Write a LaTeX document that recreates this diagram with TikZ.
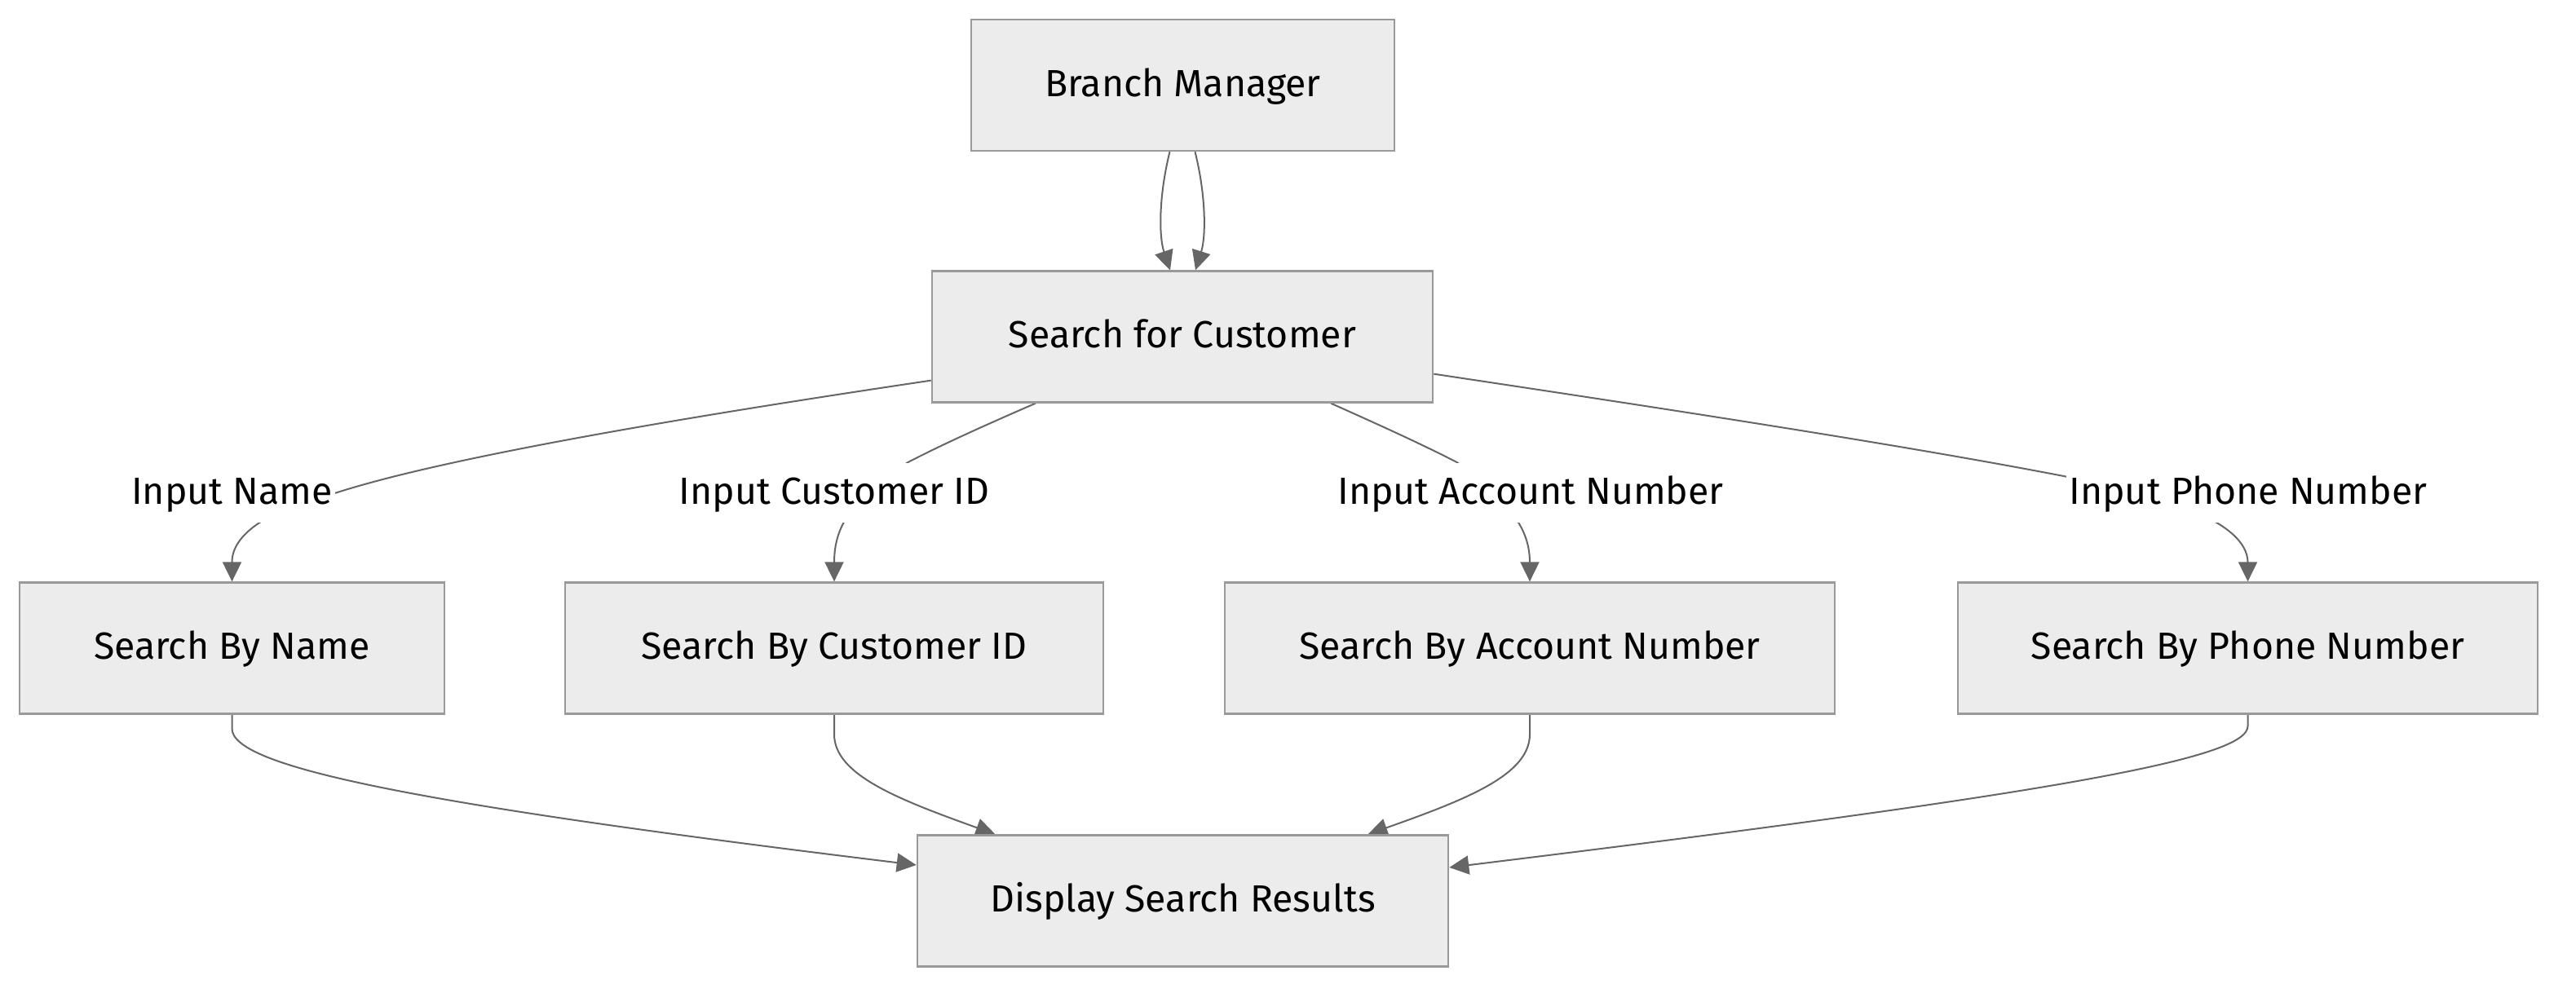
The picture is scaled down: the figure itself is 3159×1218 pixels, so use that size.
\documentclass[tikz,border=0pt]{standalone}
\usepackage{fontspec}
\setmainfont{Fira Sans}
\usetikzlibrary{arrows.meta,calc}
\pgfdeclarelayer{background}
\pgfsetlayers{background,main}
\definecolor{boxfill}{HTML}{ECECEC}
\definecolor{boxline}{HTML}{999999}
\definecolor{edgecol}{HTML}{666666}
\begin{document}
\begin{tikzpicture}[x=0.01cm,y=-0.01cm,
  font=\fontsize{13.2pt}{16pt}\selectfont,
  box/.style={draw=boxline, fill=boxfill, line width=0.022cm, minimum height=1.61cm,
    inner sep=0pt, text height=0.79em, text depth=0em},
  lbl/.style={fill=white, inner xsep=1pt, inner ysep=0pt, minimum height=0.73cm,
    text height=0.79em, text depth=0em},
  conn/.style={draw=edgecol, line width=0.02cm, -{Triangle[length=0.24cm,width=0.23cm]}}]
\useasboundingbox (0,0) rectangle (3159,1218);

% boxes
\node[box, minimum width=5.19cm] (bm)  at (1450.5,104.5) {Branch Manager};
\node[box, minimum width=6.14cm] (sfc) at (1450,413) {Search for Customer};
\node[box, minimum width=5.21cm] (sbn)  at (284.5,795) {Search By Name};
\node[box, minimum width=6.60cm] (scid) at (1023,795) {Search By Customer ID};
\node[box, minimum width=7.48cm] (sacc) at (1876,795) {Search By Account Number};
\node[box, minimum width=7.11cm] (sph)  at (2756.5,795) {Search By Phone Number};
\node[box, minimum width=6.51cm] (disp) at (1450.5,1105) {Display Search Results};

% edge labels
\node[lbl] (lname) at (284.5,604.5) {Input Name};
\node[lbl] (lcid)  at (1023,604.5) {Input Customer ID};
\node[lbl] (lacc)  at (1877,604.5) {Input Account Number};
\node[lbl] (lph)   at (2757,604.5) {Input Phone Number};

\begin{pgfonlayer}{background}
% Branch Manager -> Search for Customer (two edges)
\draw[conn] ($(bm.south)+(-16,0)$) .. controls (1421,240) and (1421,290) .. ($(sfc.north)+(-15,0)$);
\draw[conn] ($(bm.south)+(15,0)$) .. controls (1479,240) and (1479,290) .. ($(sfc.north)+(16,0)$);

% Search for Customer -> labels -> search boxes
\draw[conn] ($(sfc.south west)+(0,-28)$) .. controls (850,510) and (550,560) .. (lname.east)
  .. controls (345,620) and (284,650) .. (284.5,690) -- (sbn.north);
\draw[conn] ($(sfc.south)+(-180,0)$) .. controls (1200,525) and (1150,548) .. ($(lcid.north)+(90,0)$)
  .. controls (1050,610) and (1023,640) .. (1023,690) -- (scid.north);
\draw[conn] ($(sfc.south)+(182,0)$) .. controls (1700,525) and (1750,548) .. ($(lacc.north)+(-90,0)$)
  .. controls (1840,610) and (1876,640) .. (1876,690) -- (sacc.north);
\draw[conn] ($(sfc.south east)+(0,-36)$) .. controls (2020,498) and (2330,545) .. ($(lph.west)+(0,-20)$)
  .. controls (2650,605) and (2756.5,640) .. (2756.5,690) -- (sph.north);

% search boxes -> Display Search Results
\draw[conn] (sbn.south) -- ++(0,17) .. controls (284.5,940) and (500,985) .. ($(disp.west)+(0,-44)$);
\draw[conn] (scid.south) -- ++(0,24) .. controls (1023,950) and (1100,980) .. ($(disp.north)+(-230,0)$);
\draw[conn] (sacc.south) -- ++(0,24) .. controls (1876,950) and (1800,980) .. ($(disp.north)+(227,0)$);
\draw[conn] (sph.south) -- ++(0,14) .. controls (2756.5,930) and (2530,972) .. ($(disp.east)+(0,-41)$);
\end{pgfonlayer}
\end{tikzpicture}
\end{document}
